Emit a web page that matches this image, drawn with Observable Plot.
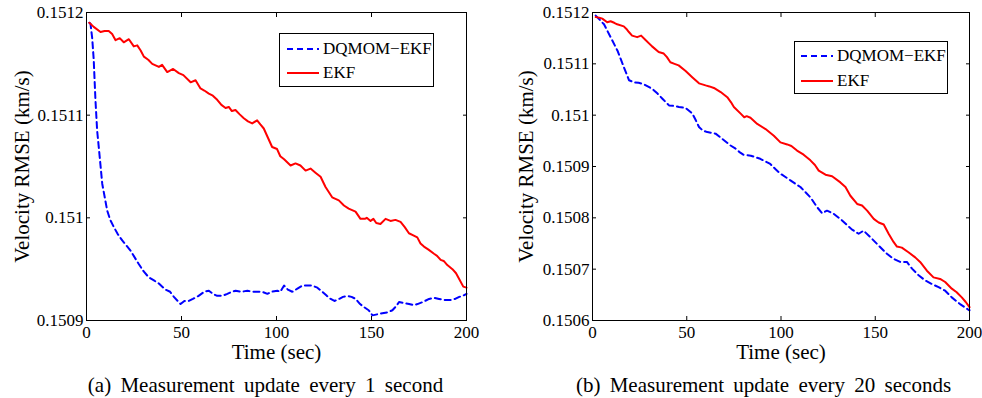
<!DOCTYPE html>
<html>
<head>
<meta charset="utf-8">
<script src="https://cdn.jsdelivr.net/npm/d3@7"></script>
<script src="https://cdn.jsdelivr.net/npm/@observablehq/plot@0.6"></script>
<style>
  html, body { margin: 0; padding: 0; background: #fff; }
  #wrap { position: relative; width: 982px; height: 398px; overflow: hidden; font-family: "Liberation Serif", serif; }
  #wrap svg, #wrap svg text { font-family: "Liberation Serif", serif !important; }
  .panel { position: absolute; top: 0; }
  .caption { position: absolute; transform: translateX(-50%); font-family: "Liberation Serif", serif; font-size: 21px; line-height: 20px; word-spacing: 4px; white-space: nowrap; color: #000; }
  .legend { position: absolute; box-sizing: border-box; border: 1.3px solid #000; background: #fff; }
  .legend .row { position: absolute; left: 0; height: 20px; display: flex; align-items: center; font-family: "Liberation Serif", serif; font-size: 17px; line-height: 20px; white-space: nowrap; color: #000; }
</style>
</head>
<body>
<div id="wrap"></div>
<script>
// ---------- data ----------
const seriesNames = ["DQMOM\u2212EKF", "EKF"];
const seriesColors = ["#0000ff", "#ff0000"];
const captions = ["(a) Measurement update every 1 second", "(b) Measurement update every 20 seconds"];
const xLabel = "Time (sec)";
const yLabel = "Velocity RMSE (km/s)";
const xTicks = [0, 50, 100, 150, 200];
const yTicksA = [0.1509, 0.151, 0.1511, 0.1512];
const yTicksB = [0.1506, 0.1507, 0.1508, 0.1509, 0.151, 0.1511, 0.1512];

// Panel (a): update every 1 s
const tEkfA = [1.5,3.8,7.4,9.5,11.7,13.5,15.3,17.5,19.6,22.3,24.9,26.7,28.5,30.2,32.5,34.6,38.1,39.8,42.5,45.6,48.6,51,54.8,57.4,60,62,64.4,66.5,68.8,71,73.2,74.9,76.5,78.4,80.5,82.8,85,87.2,89.8,91.5,93.3,95.5,97.7,100.3,102,104,107.4,110,112.6,115.3,117.9,120.5,123.2,125.8,129.3,132.8,135.5,138,141.6,144.2,146.5,147.5,149.5,151,152.5,154.7,157.4,160,162.6,165.3,167.5,169.7,172,174.1,175.8,177.6,180,182.9,184.5,186.4,188,189.9,192.6,194.5,196,198.3,200];
const ekfA = [0.151190,0.151186,0.151181,0.151182,0.151182,0.151179,0.151173,0.151175,0.151171,0.151174,0.151167,0.151168,0.151163,0.151157,0.151154,0.151150,0.151147,0.151149,0.151142,0.151145,0.151141,0.151139,0.151132,0.151134,0.151126,0.151124,0.151121,0.151119,0.151115,0.151110,0.151107,0.151108,0.151104,0.151105,0.151101,0.151097,0.151094,0.151092,0.151095,0.151091,0.151087,0.151078,0.151069,0.151067,0.151060,0.151057,0.151051,0.151053,0.151051,0.151046,0.151048,0.151044,0.151040,0.151030,0.151020,0.151017,0.151012,0.151009,0.151006,0.150999,0.150999,0.151000,0.150997,0.150999,0.150995,0.150994,0.150999,0.150997,0.150998,0.150996,0.150991,0.150985,0.150983,0.150981,0.150975,0.150972,0.150969,0.150965,0.150963,0.150959,0.150958,0.150954,0.150950,0.150946,0.150941,0.150933,0.150932];
const tDqA = [1.5,2.1,3.0,3.8,4.7,5.6,6.5,8.3,10.9,12.5,14.4,16.5,18.8,21,23.2,25.5,27.5,30,32.8,35.5,38.1,41.6,44,46,49.5,51.5,53.7,56,59,62,64.4,66.5,68.8,71.5,74.1,76.5,78.5,81.5,84.7,87.5,89.9,92.5,95.2,97.5,100.5,102,104,106,108.3,111,113.6,116,118.8,121.5,124.1,126.5,128.5,130.5,132.9,135,137.4,139.5,141.7,144,146.1,148.5,150.5,153,155.7,158.5,161,163,164.5,167,169.8,172,174.2,177,180.3,183,185.6,188.5,191.8,194,196.2,198,200];
const dqA = [0.151190,0.151189,0.151175,0.151154,0.151115,0.151085,0.151068,0.151033,0.151007,0.150998,0.150991,0.150984,0.150978,0.150973,0.150968,0.150961,0.150955,0.150948,0.150942,0.150939,0.150936,0.150930,0.150928,0.150923,0.150916,0.150919,0.150919,0.150921,0.150924,0.150928,0.150929,0.150926,0.150924,0.150924,0.150926,0.150928,0.150929,0.150928,0.150929,0.150928,0.150928,0.150928,0.150926,0.150928,0.150929,0.150928,0.150934,0.150930,0.150928,0.150931,0.150934,0.150934,0.150934,0.150932,0.150928,0.150924,0.150921,0.150919,0.150921,0.150923,0.150924,0.150923,0.150921,0.150916,0.150913,0.150910,0.150905,0.150906,0.150907,0.150908,0.150910,0.150914,0.150918,0.150917,0.150916,0.150915,0.150916,0.150918,0.150921,0.150922,0.150921,0.150920,0.150920,0.150921,0.150923,0.150924,0.150926];

// Panel (b): update every 20 s
const tEkfB = [1.7,3.5,5.2,7.8,9.6,11.5,13.1,16.6,18,19.3,21,23.7,25.8,28,31.6,35.1,37.8,39.5,41.3,43.5,45.7,49.4,52.9,56.5,60,62,64.4,68,71.5,73.5,75,78.6,80.5,81.8,83.8,87.4,91.8,96.2,99.7,103.3,105.5,108.5,112,115.6,118,120,123.6,127.1,131.5,134.2,136.8,140.4,143,145.7,149.2,151.8,154.5,157.1,159.7,161.5,164.1,167.6,171.2,173.8,177.4,180.9,184.4,187.1,190.6,193.2,195.9,198,200];
const ekfB = [0.151191,0.151190,0.151188,0.151181,0.151183,0.151180,0.151177,0.151173,0.151168,0.151162,0.151155,0.151152,0.151155,0.151147,0.151134,0.151123,0.151120,0.151113,0.151103,0.151100,0.151097,0.151086,0.151074,0.151062,0.151058,0.151056,0.151053,0.151045,0.151035,0.151025,0.151016,0.151003,0.150996,0.150998,0.150995,0.150983,0.150973,0.150960,0.150947,0.150943,0.150940,0.150931,0.150923,0.150912,0.150903,0.150892,0.150884,0.150881,0.150869,0.150860,0.150843,0.150827,0.150824,0.150814,0.150798,0.150791,0.150787,0.150769,0.150753,0.150744,0.150742,0.150733,0.150723,0.150714,0.150697,0.150684,0.150681,0.150675,0.150662,0.150655,0.150645,0.150636,0.150626];
const tDqB = [1.7,6.1,9.6,13.2,16.7,19.4,22,24.5,27.3,31.8,34.5,37.1,40.6,43,45.9,49.4,53,54.8,56.5,58.5,60.9,65.3,68.8,73.2,75.5,78,80,84,89,94.3,97,99.7,105,110.3,115.6,119.1,121.8,124.4,127.9,132.4,137.7,141.2,143.8,148.3,151.8,156.2,159.7,163.3,166.8,169.5,173,176.5,180.1,183.6,187.1,190.6,195,199.4,200];
const dqB = [0.151194,0.151177,0.151152,0.151126,0.151093,0.151068,0.151064,0.151063,0.151060,0.151051,0.151042,0.151032,0.151019,0.151018,0.151016,0.151014,0.151003,0.150990,0.150977,0.150970,0.150967,0.150964,0.150954,0.150941,0.150936,0.150928,0.150923,0.150921,0.150915,0.150905,0.150895,0.150886,0.150873,0.150860,0.150840,0.150821,0.150809,0.150814,0.150808,0.150795,0.150777,0.150769,0.150775,0.150759,0.150746,0.150730,0.150720,0.150714,0.150714,0.150701,0.150688,0.150678,0.150671,0.150665,0.150658,0.150645,0.150632,0.150621,0.150620];

// ---------- drawing ----------
const FONT = "Liberation Serif";
const zip = (ts, vs) => ts.map((t, i) => ({t, v: vs[i]}));
const fmtY = d => String(+d.toFixed(4));
const wrap = document.getElementById("wrap");

function panel(cfg) {
  const plot = Plot.plot({
    width: 491,
    height: 365,
    marginLeft: cfg.ml,
    marginRight: cfg.mr,
    marginTop: 12,
    marginBottom: 45,
    style: {fontFamily: FONT, fontSize: "17px", color: "#000", background: "transparent"},
    x: {domain: [0, 200], ticks: xTicks},
    y: {domain: cfg.yDomain, ticks: cfg.yTicks},
    marks: [
      Plot.line(zip(cfg.tDq, cfg.dq), {x: "t", y: "v", stroke: seriesColors[0], strokeWidth: 2, strokeDasharray: "6,4"}),
      Plot.line(zip(cfg.tEkf, cfg.ekf), {x: "t", y: "v", stroke: seriesColors[1], strokeWidth: 2}),
      Plot.frame({stroke: "#000", strokeWidth: 1}),
      Plot.axisX(xTicks, {anchor: "bottom", tickSize: -4, tickFormat: () => "", label: null}),
      Plot.axisX(xTicks, {anchor: "top", tickSize: -4, tickFormat: () => "", label: null}),
      Plot.axisY(cfg.yTicks, {anchor: "left", tickSize: -4, tickFormat: () => "", label: null}),
      Plot.axisY(cfg.yTicks, {anchor: "right", tickSize: -4, tickFormat: () => "", label: null}),
      Plot.axisX(xTicks, {anchor: "bottom", tickSize: 0, tickPadding: 5, label: null, fontSize: 17, fontFamily: FONT}),
      Plot.axisY(cfg.yTicks, {anchor: "left", tickSize: 0, tickPadding: 3, tickFormat: fmtY, label: null, fontSize: 17, fontFamily: FONT}),
      Plot.text([xLabel], {frameAnchor: "bottom", dy: 32, text: d => d, fontSize: 21, fontFamily: FONT, textAnchor: "middle", lineAnchor: "middle"}),
      Plot.text([yLabel], {frameAnchor: "left", dx: cfg.yLabelDx, rotate: -90, text: d => d, fontSize: 21, fontFamily: FONT, textAnchor: "middle", lineAnchor: "middle"})
    ]
  });
  const div = document.createElement("div");
  div.className = "panel";
  div.style.left = cfg.left + "px";
  div.appendChild(plot);
  wrap.appendChild(div);

  const cap = document.createElement("div");
  cap.className = "caption";
  cap.style.left = cfg.capCenter + "px";
  cap.style.top = "375px";
  cap.textContent = cfg.caption;
  wrap.appendChild(cap);

  const lg = document.createElement("div");
  lg.className = "legend";
  Object.assign(lg.style, {left: cfg.lg.x + "px", top: cfg.lg.y + "px", width: cfg.lg.w + "px", height: cfg.lg.h + "px"});
  seriesNames.forEach((name, i) => {
    const row = document.createElement("div");
    row.className = "row";
    row.style.top = (cfg.lg.rows[i] - 10) + "px";
    row.style.left = cfg.lg.sw + "px";
    const ns = "http://www.w3.org/2000/svg";
    const s = document.createElementNS(ns, "svg");
    s.setAttribute("width", 32); s.setAttribute("height", 20);
    const l = document.createElementNS(ns, "line");
    l.setAttribute("x1", 0); l.setAttribute("x2", 32); l.setAttribute("y1", 10); l.setAttribute("y2", 10);
    l.setAttribute("stroke", seriesColors[i]); l.setAttribute("stroke-width", 2);
    if (i === 0) l.setAttribute("stroke-dasharray", "6,4");
    s.appendChild(l);
    row.appendChild(s);
    const tx = document.createElement("span");
    tx.style.marginLeft = cfg.lg.gap + "px";
    tx.textContent = name;
    row.appendChild(tx);
    lg.appendChild(row);
  });
  wrap.appendChild(lg);
}

panel({left: 0, ml: 86, mr: 25, yDomain: [0.1509, 0.1512], yTicks: yTicksA, tEkf: tEkfA, ekf: ekfA, tDq: tDqA, dq: dqA,
  yLabelDx: -64, caption: captions[0], capCenter: 265.5,
  lg: {x: 279, y: 33, w: 155, h: 54, rows: [15, 39], sw: 7, gap: 4}});
panel({left: 491, ml: 101, mr: 13, yDomain: [0.1506, 0.1512], yTicks: yTicksB, tEkf: tEkfB, ekf: ekfB, tDq: tDqB, dq: dqB,
  yLabelDx: -66, caption: captions[1], capCenter: 763.5,
  lg: {x: 794, y: 41, w: 154, h: 53, rows: [14, 39], sw: 6, gap: 4}});
</script>
</body>
</html>
